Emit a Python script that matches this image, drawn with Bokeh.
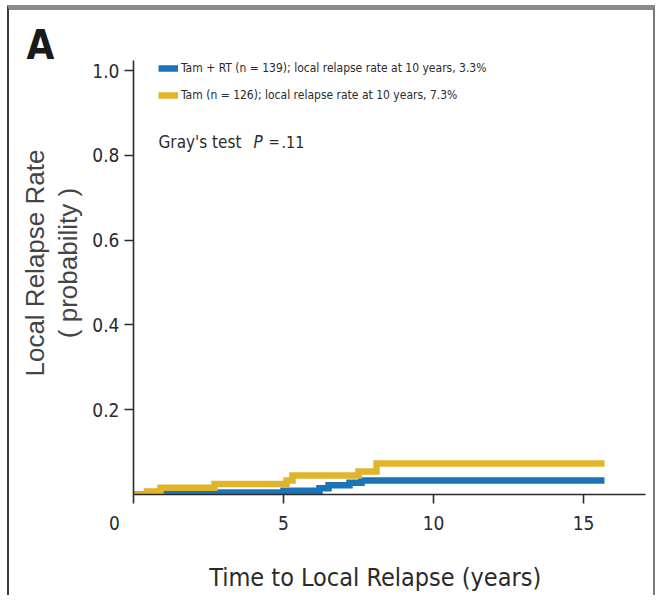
from bokeh.embed import file_html
from bokeh.models import (FixedTicker, Label, Legend, LegendItem,
                          PrintfTickFormatter, Range1d, Title)
from bokeh.plotting import figure
from bokeh.resources import INLINE

# Cumulative incidence of local relapse, read as step functions (years, probability)
tam_rt_years = [0.0, 0.5, 2.7, 5.0, 6.2, 6.5, 7.2, 7.6, 15.7]
tam_rt_rate = [0.0, 0.002, 0.005, 0.009, 0.015, 0.022, 0.028, 0.033, 0.033]

tam_years = [0.0, 0.45, 0.9, 2.7, 5.1, 5.3, 7.5, 8.1, 15.7]
tam_rate = [0.0, 0.007, 0.016, 0.025, 0.033, 0.045, 0.054, 0.073, 0.073]

x_ticks = [0, 5, 10, 15]
y_ticks = [0.2, 0.4, 0.6, 0.8, 1.0]

series_labels = [
    "Tam + RT (n = 139); local relapse rate at 10 years, 3.3%",
    "Tam (n = 126); local relapse rate at 10 years, 7.3%",
]

BLUE = "#1b74b8"
GOLD = "#e1b52b"
INK = "#2b2b2b"
NARROW = "DejaVu Sans Condensed"
REGULAR = "Liberation Sans"
NBSP = "\u00a0"

# canvas size inside the panel frame (page borders are drawn with CSS)
W, H = 648, 590
LEFT, RIGHT, TOP, BOTTOM = 124, 12, 50, 106
PX_PER_YEAR = 30.0
PX_PER_UNIT = 424.0

p = figure(
    width=W, height=H, title=None,
    output_backend="svg", toolbar_location=None,
    x_range=Range1d(0, (W - LEFT - RIGHT) / PX_PER_YEAR),
    y_range=Range1d(0, (H - TOP - BOTTOM) / PX_PER_UNIT),
    min_border_left=LEFT, min_border_right=RIGHT,
    min_border_top=TOP, min_border_bottom=BOTTOM,
    styles={
        "margin-left": "7px", "margin-top": "5px",
        "border-top": "5px solid #8a8a8a",
        "border-left": "2px solid #3a3a3a",
        "border-right": "2px solid #7a7a7a",
    },
)
p.outline_line_color = None
p.grid.visible = False
p.background_fill_color = "white"
p.border_fill_color = "white"

# axes
for ax in (p.xaxis, p.yaxis):
    ax.axis_line_color = INK
    ax.axis_line_width = 1.6
    ax.major_tick_line_color = INK
    ax.major_tick_line_width = 1.6
    ax.major_tick_in = 0
    ax.minor_tick_line_color = None
    ax.major_label_text_font = NARROW
    ax.major_label_text_color = INK

p.xaxis.ticker = FixedTicker(ticks=x_ticks)
# origin label sits left of the corner
p.xaxis.major_label_overrides = {0: "0" + NBSP * 7}
p.xaxis.major_tick_out = 9
p.xaxis.major_label_text_font_size = "19px"
p.xaxis.major_label_standoff = 8
p.xaxis.axis_label = "Time to Local Relapse (years)" + NBSP * 4
p.xaxis.axis_label_text_font = NARROW
p.xaxis.axis_label_text_font_style = "normal"
p.xaxis.axis_label_text_font_size = "25px"
p.xaxis.axis_label_text_color = INK
p.xaxis.axis_label_standoff = 26

p.yaxis.ticker = FixedTicker(ticks=y_ticks)
p.yaxis.formatter = PrintfTickFormatter(format="%.1f")
p.yaxis.major_tick_out = 9
p.yaxis.major_label_text_font_size = "19px"
p.yaxis.major_label_standoff = 5
p.yaxis.axis_label = (NBSP * 4 + "Local Relapse Rate\n"
                      + NBSP * 4 + "(" + NBSP + "probability" + NBSP + ")")
p.yaxis.axis_label_text_font = REGULAR
p.yaxis.axis_label_text_font_style = "normal"
p.yaxis.axis_label_text_font_size = "26px"
p.yaxis.axis_label_text_color = "#444444"
p.yaxis.axis_label_text_line_height = 1.1
p.yaxis.axis_label_standoff = 6

# panel letter
p.add_layout(Title(text="A", align="left", offset=-107, standoff=-14,
                   text_font=NARROW, text_font_style="bold",
                   text_font_size="40px", text_color="#1a1a1a"), "above")

# curves
r_rt = p.step(tam_rt_years, tam_rt_rate, mode="after", line_width=6.5,
              line_color=BLUE, line_join="miter")
r_tam = p.step(tam_years, tam_rate, mode="after", line_width=6.5,
               line_color=GOLD, line_join="miter")

legend = Legend(
    items=[LegendItem(label=series_labels[0], renderers=[r_rt]),
           LegendItem(label=series_labels[1], renderers=[r_tam])],
    location=(25, 389), orientation="vertical",
    glyph_width=20, glyph_height=20, label_height=20, label_standoff=3,
    spacing=7, padding=0, margin=0,
    border_line_color=None, background_fill_alpha=0,
    label_text_font=NARROW, label_text_font_size="12px",
    label_text_color=INK,
)
p.add_layout(legend)


def note(text, x, size, style="normal"):
    p.add_layout(Label(
        x=x, y=353, x_units="screen", y_units="screen", text=text,
        text_font=NARROW, text_font_size=size, text_font_style=style,
        text_align="left", text_baseline="middle", text_color=INK))


note("Gray's test", 25, "17px")
note("P", 120, "17px", style="italic")
note("=", 135, "15px")
note(".11", 148, "16px")

open("out.html", "w").write(file_html(p, INLINE))
